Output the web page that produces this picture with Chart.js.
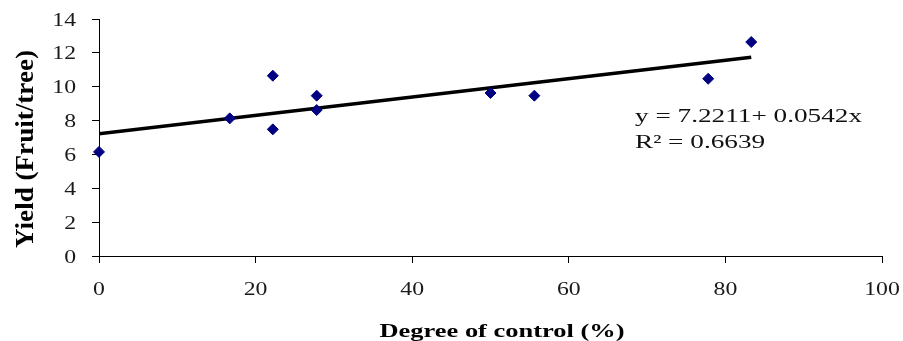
<!DOCTYPE html>
<html>
<head>
<meta charset="utf-8">
<script src="https://cdn.jsdelivr.net/npm/chart.js@4.4.1/dist/chart.umd.min.js"></script>
<style>
    html, body { margin: 0; padding: 0; background: #ffffff; }
    #box { width: 903px; height: 341px; }
</style>
</head>
<body>
<div id="box"><canvas id="yieldChart" width="903" height="341"></canvas></div>
<script>
// Data
const controlPct = [0, 16.7, 22.2, 22.2, 27.8, 27.8, 50, 55.6, 77.8, 83.3];
const yieldFruit = [6.15, 8.13, 10.65, 7.48, 9.47, 8.62, 9.63, 9.47, 10.47, 12.64];
const trendX = [0, 83.3];
const trendY = [7.22, 11.74];
const xTicks = [0, 20, 40, 60, 80, 100];
const yTicks = [0, 2, 4, 6, 8, 10, 12, 14];
const xTitle = 'Degree of control (%)';
const yTitle = 'Yield (Fruit/tree)';
const equationLines = ['y = 7.2211+ 0.0542x', 'R\u00B2 = 0.6639'];

const serif = '"Liberation Serif", "DejaVu Serif", serif';

// text squeezed/stretched horizontally to a given width (source image is distorted)
function fitText(ctx, text, x, y, scaleX, align) {
    const w = ctx.measureText(text).width * scaleX;
    let left = x;
    if (align === 'center') left = x - w / 2;
    if (align === 'right') left = x - w;
    ctx.save();
    ctx.translate(left, y);
    ctx.scale(scaleX, 1);
    ctx.textAlign = 'left';
    ctx.fillText(text, 0, 0);
    ctx.restore();
}

const textPlugin = {
    id: 'textPlugin',
    afterDraw(chart) {
        const ctx = chart.ctx;
        const xs = chart.scales.x;
        const ys = chart.scales.y;
        ctx.save();
        ctx.fillStyle = '#1a1a1a';
        ctx.textBaseline = 'alphabetic';

        // tick labels
        ctx.font = '19px ' + serif;
        yTicks.forEach(v => {
            fitText(ctx, String(v), 76, ys.getPixelForValue(v) + 6.5, 1.25, 'right');
        });
        xTicks.forEach(v => {
            fitText(ctx, String(v), xs.getPixelForValue(v), 295, 1.25, 'center');
        });

        // x axis title
        ctx.fillStyle = '#000';
        ctx.font = 'bold 19px ' + serif;
        const xw = ctx.measureText(xTitle).width;
        fitText(ctx, xTitle, 502, 337, 245 / xw, 'center');

        // y axis title, rotated
        ctx.font = 'bold 26px ' + serif;
        const yw = ctx.measureText(yTitle).width;
        ctx.save();
        ctx.translate(33, 149);
        ctx.rotate(-Math.PI / 2);
        ctx.scale(198 / yw, 1);
        ctx.textAlign = 'center';
        ctx.fillText(yTitle, 0, 0);
        ctx.restore();

        // regression equation
        ctx.fillStyle = '#111';
        ctx.font = '19.5px ' + serif;
        const ew = ctx.measureText(equationLines[0]).width;
        const es = 227 / ew;
        fitText(ctx, equationLines[0], 635, 121.5, es, 'left');
        fitText(ctx, equationLines[1], 635, 148, es, 'left');
        ctx.restore();
    }
};

const ctx = document.getElementById('yieldChart').getContext('2d');
new Chart(ctx, {
    type: 'scatter',
    data: {
        datasets: [{
            label: 'Trend',
            type: 'line',
            data: trendX.map((x, i) => ({ x: x, y: trendY[i] })),
            borderColor: '#000000',
            borderWidth: 3.5,
            pointRadius: 0,
            fill: false,
            order: 2
        }, {
            label: 'Yield',
            data: controlPct.map((x, i) => ({ x: x, y: yieldFruit[i] })),
            pointStyle: 'rectRot',
            pointRadius: 5.5,
            backgroundColor: '#000080',
            borderColor: '#000080',
            borderWidth: 1,
            clip: false,
            order: 1
        }]
    },
    options: {
        responsive: false,
        animation: false,
        events: [],
        layout: { padding: { left: 92, right: 21, top: 19, bottom: 78 } },
        plugins: {
            legend: { display: false },
            tooltip: { enabled: false }
        },
        scales: {
            x: {
                type: 'linear',
                min: 0,
                max: 100,
                afterBuildTicks: axis => { axis.ticks = xTicks.map(v => ({ value: v })); },
                ticks: { display: false },
                grid: { drawOnChartArea: false, drawTicks: true, tickLength: 7, color: '#000' },
                border: { color: '#000', width: 1 }
            },
            y: {
                min: 0,
                max: 14,
                afterBuildTicks: axis => { axis.ticks = yTicks.map(v => ({ value: v })); },
                ticks: { display: false },
                grid: { drawOnChartArea: false, drawTicks: true, tickLength: 7, color: '#000' },
                border: { color: '#000', width: 1 }
            }
        }
    },
    plugins: [textPlugin]
});
</script>
</body>
</html>
